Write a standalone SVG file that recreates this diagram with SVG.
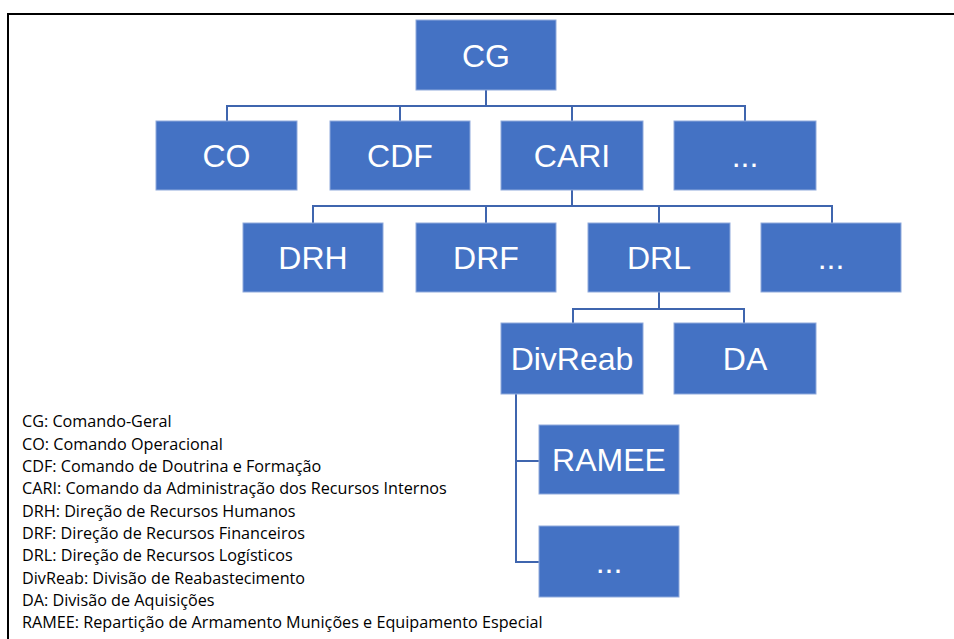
<svg xmlns="http://www.w3.org/2000/svg" width="954" height="639" viewBox="0 0 954 639">
<style>
.box{fill:#4472C4;stroke:#8FAADC;stroke-width:1}
.lbl{font-family:"Liberation Sans",Arial,sans-serif;font-size:32px;fill:#FFFFFF;text-anchor:middle}
.con{fill:none;stroke:#3F65AE;stroke-width:2}
.leg{font-family:"Open Sans","Liberation Sans",Arial,sans-serif;font-size:16.2px;fill:#000000}
</style>
<rect width="954" height="639" fill="#FFFFFF"/>
<path d="M8 639 V14 H954" fill="none" stroke="#000000" stroke-width="2"/>
<g id="connectors">
<path class="con" d="M486 90 V106 M227 121 V106 H745 V121 M400 106 V121 M572 106 V121"/>
<path class="con" d="M572 190 V206 M313 223 V206 H832 V223 M486 206 V223 M659 206 V223"/>
<path class="con" d="M659 292 V309 M573 323 V309 H744 V323"/>
<path class="con" d="M516 394 V562 H539 M516 461 H539"/>
</g>
<g id="CG"><rect class="box" x="416" y="20" width="140" height="70"/><text class="lbl" x="486" y="66.5">CG</text></g>
<g id="CO"><rect class="box" x="156" y="121" width="141" height="69"/><text class="lbl" x="226.5" y="167">CO</text></g>
<g id="CDF"><rect class="box" x="330" y="121" width="140" height="69"/><text class="lbl" x="400" y="167">CDF</text></g>
<g id="CARI"><rect class="box" x="501" y="121" width="142" height="69"/><text class="lbl" x="572" y="167">CARI</text></g>
<g id="etc1"><rect class="box" x="674" y="121" width="142" height="69"/><text class="lbl" x="745" y="167">...</text></g>
<g id="DRH"><rect class="box" x="243" y="223" width="140" height="69"/><text class="lbl" x="313" y="269">DRH</text></g>
<g id="DRF"><rect class="box" x="416" y="223" width="140" height="69"/><text class="lbl" x="486" y="269">DRF</text></g>
<g id="DRL"><rect class="box" x="588" y="223" width="142" height="69"/><text class="lbl" x="659" y="269">DRL</text></g>
<g id="etc2"><rect class="box" x="761" y="223" width="140" height="69"/><text class="lbl" x="831" y="269">...</text></g>
<g id="DivReab"><rect class="box" x="501" y="323" width="142" height="71"/><text class="lbl" x="572" y="370">DivReab</text></g>
<g id="DA"><rect class="box" x="674" y="323" width="142" height="71"/><text class="lbl" x="745" y="370">DA</text></g>
<g id="RAMEE"><rect class="box" x="539" y="425" width="140" height="69"/><text class="lbl" x="609" y="471">RAMEE</text></g>
<g id="etc3"><rect class="box" x="539" y="526" width="140" height="71"/><text class="lbl" x="609" y="573">...</text></g>
<g id="legend">
<text class="leg" x="22" y="427">CG: Comando-Geral</text>
<text class="leg" x="22" y="449.5">CO: Comando Operacional</text>
<text class="leg" x="22" y="472">CDF: Comando de Doutrina e Formação</text>
<text class="leg" x="22" y="494">CARI: Comando da Administração dos Recursos Internos</text>
<text class="leg" x="22" y="516.5">DRH: Direção de Recursos Humanos</text>
<text class="leg" x="22" y="539">DRF: Direção de Recursos Financeiros</text>
<text class="leg" x="22" y="561">DRL: Direção de Recursos Logísticos</text>
<text class="leg" x="22" y="583.5">DivReab: Divisão de Reabastecimento</text>
<text class="leg" x="22" y="606">DA: Divisão de Aquisições</text>
<text class="leg" x="22" y="628">RAMEE: Repartição de Armamento Munições e Equipamento Especial</text>
</g>
</svg>
